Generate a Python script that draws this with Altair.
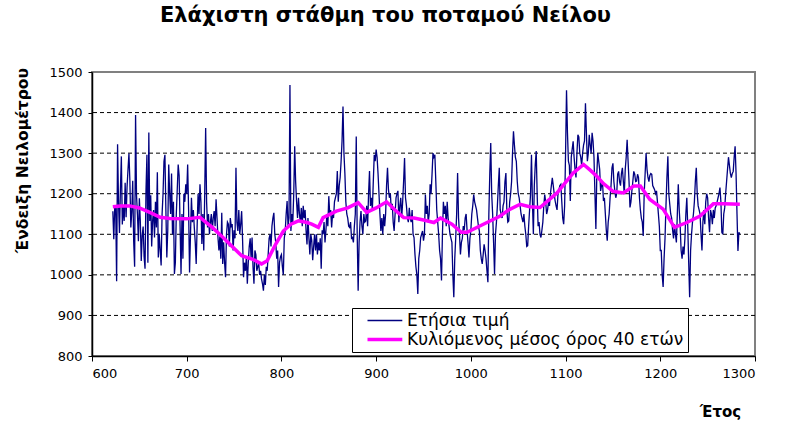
import altair as alt
import pandas as pd

START_YEAR = 622
annual_values = [
    1157, 1088, 1169, 1169, 984, 1322, 1178, 1103, 1211, 1292,
    1124, 1171, 1133, 1227, 1142, 1216, 1259, 1299, 1232, 1117,
    1155, 1232, 1083, 1020, 1394, 1196, 1148, 1083, 1189, 1133,
    1034, 1097, 1119, 1045, 1015, 1207, 1296, 1030, 1351, 1133,
    1196, 1070, 1133, 1160, 1092, 1180, 1117, 1253, 1043, 1100,
    1060, 1023, 1150, 1200, 1280, 1296, 1160, 1043, 1110, 1272,
    1200, 1150, 1250, 1100, 1180, 1002, 1030, 1150, 1210, 1272,
    1245, 1120, 1002, 1150, 1040, 1200, 1180, 1223, 1200, 1272,
    1160, 1006, 1100, 1190, 1130, 1160, 1117, 1080, 1027, 1120,
    1200, 1150, 1223, 1180, 1076, 1150, 1060, 1200, 1362, 1180,
    1117, 1150, 1100, 1130, 1150, 1108, 1140, 1157, 1120, 1186,
    1140, 1092, 1060, 1095, 1040, 1153, 1027, 1080, 1030, 994,
    1100, 1130, 1125, 1070, 1140, 1120, 1125, 1060, 1110, 1090,
    1264, 1130, 1108, 1160, 1100, 1125, 1157, 1085, 994, 1030,
    1010, 1045, 978, 1030, 1070, 1090, 1040, 1092, 1020, 978,
    1060, 1050, 1010, 1020, 1030, 1000, 1010, 990, 978, 961,
    1000, 975, 1020, 1010, 1050, 1090, 1100, 1070, 1120, 1140,
    1153, 1100, 1080, 1040, 1060, 970, 1030, 1045, 1050, 1020,
    1000, 1090, 1108, 1150, 1182, 1120, 1140, 1468, 1108, 1150,
    1130, 1200, 1317, 1230, 1180, 1140, 1190, 1150, 1130, 1165,
    1120, 1170, 1140, 1160, 1110, 1075, 1140, 1092, 1050, 1100,
    1085, 1036, 1070, 1100, 1060, 1100, 1050, 1080, 1060, 1090,
    1015, 1110, 1100, 1130, 1080, 1110, 1150, 1120, 1194, 1150,
    1160, 1117, 1150, 1140, 1180, 1190, 1200, 1256, 1180, 1220,
    1240, 1280, 1330, 1415, 1300, 1250, 1180, 1150, 1140, 1120,
    1117, 1130, 1090, 1092, 1080, 1120, 1150, 1341, 1100, 961,
    1080, 1130, 1157, 1120, 1100, 1150, 1130, 1133, 1170, 1120,
    1200, 1256, 1170, 1190, 1160, 1230, 1296, 1280, 1309, 1290,
    1250, 1200, 1150, 1108, 1140, 1100, 1150, 1120, 1150, 1220,
    1264, 1210, 1190, 1200, 1160, 1175, 1130, 1108, 1150, 1190,
    1200, 1207, 1130, 1170, 1190, 1140, 1180, 1230, 1288, 1190,
    1170, 1140, 1130, 1165, 1140, 1130, 1160, 1100, 1092, 1050,
    1020, 1000, 953, 1040, 1060, 1092, 1100, 1108, 1084, 1100,
    1198, 1150, 1170, 1130, 1150, 1223, 1200, 1247, 1300, 1290,
    1296, 1230, 1160, 1130, 1100, 1060, 1040, 986, 1100, 1180,
    1150, 1170, 1120, 1180, 1140, 1120, 1100, 1090, 1080, 1000,
    945, 1040, 1090, 1150, 1251, 1140, 1100, 1050, 1080, 1090,
    1120, 1110, 1140, 1150, 1110, 1080, 1043, 1090, 1110, 1150,
    1170, 1198, 1180, 1170, 1160, 1140, 1120, 1108, 1060, 1040,
    1027, 1050, 1075, 1060, 1040, 1010, 982, 1150, 1250, 1325,
    1200, 1150, 1080, 1002, 1100, 1130, 1170, 1220, 1264, 1160,
    1150, 1140, 1170, 1180, 1230, 1251, 1160, 1130, 1133, 1180,
    1200, 1230, 1300, 1354, 1320, 1290, 1280, 1230, 1200, 1190,
    1170, 1150, 1140, 1130, 1150, 1120, 1100, 1070, 1072, 1120,
    1160, 1198, 1296, 1180, 1100, 1220, 1272, 1305, 1200, 1120,
    1130, 1100, 1092, 1110, 1130, 1170, 1198, 1180, 1150, 1160,
    1180, 1170, 1200, 1220, 1239, 1220, 1200, 1182, 1170, 1160,
    1200, 1210, 1220, 1223, 1180, 1140, 1125, 1170, 1300, 1455,
    1350, 1280, 1270, 1182, 1290, 1310, 1329, 1290, 1260, 1240,
    1300, 1345, 1340, 1300, 1290, 1270, 1300, 1320, 1330, 1423,
    1350, 1280, 1300, 1345, 1320, 1300, 1350, 1330, 1290, 1200,
    1113, 1250, 1300, 1280, 1260, 1207, 1220, 1230, 1182, 1190,
    1150, 1110, 1084, 1130, 1150, 1190, 1220, 1264, 1275, 1230,
    1207, 1190, 1200, 1248, 1255, 1230, 1220, 1250, 1264, 1230,
    1199, 1260, 1290, 1333, 1280, 1230, 1166, 1180, 1207, 1230,
    1255, 1248, 1230, 1231, 1248, 1240, 1190, 1160, 1140, 1130,
    1096, 1200, 1250, 1300, 1260, 1240, 1230, 1245, 1250, 1248,
    1220, 1215, 1210, 1200, 1207, 1180, 1150, 1120, 1060, 1060,
    1000, 970, 1040, 1090, 1170, 1240, 1292, 1200, 1174, 1150,
    1140, 1110, 1090, 1125, 1100, 1080, 1150, 1223, 1160, 1120,
    1060, 1040, 1070, 1050, 1090, 1150, 1190, 1120, 1030, 945,
    1060, 1100, 1130, 1150, 1180, 1230, 1264, 1200, 1170, 1160,
    1150, 1100, 1060, 1130, 1160, 1125, 1180, 1200, 1190, 1140,
    1105, 1160, 1150, 1125, 1160, 1140, 1165, 1170, 1180, 1190,
    1200, 1215, 1180, 1105, 1100, 1150, 1165, 1200, 1230, 1260,
    1290, 1270, 1250, 1240, 1250, 1255, 1290, 1317, 1250, 1150,
    1059, 1105, 1100,
]
years = list(range(START_YEAR, START_YEAR + len(annual_values)))

ma_years = [622, 630, 640, 650, 661, 672, 682, 700, 714, 720, 727, 737, 748,
            758, 769, 779, 785, 794, 802, 810, 818, 827, 832, 839, 844, 858,
            870, 881, 890, 900, 911, 920, 929, 940, 950, 961, 968, 980, 990,
            996, 1010, 1031, 1040, 1052, 1062, 1073, 1091, 1100, 1108, 1119,
            1126, 1133, 1140, 1150, 1161, 1172, 1179, 1189, 1203, 1215, 1228,
            1242, 1256, 1267, 1284]
ma_values = [1168, 1170, 1170, 1165, 1154, 1142, 1139, 1138, 1142, 1130, 1117,
             1095, 1070, 1047, 1039, 1027, 1035, 1076, 1108, 1125, 1133, 1129,
             1125, 1117, 1141, 1157, 1165, 1178, 1154, 1165, 1180, 1160, 1141,
             1140, 1135, 1129, 1140, 1125, 1105, 1105, 1121, 1145, 1160, 1174,
             1168, 1166, 1202, 1228, 1251, 1272, 1258, 1243, 1225, 1206, 1202,
             1219, 1219, 1186, 1162, 1117, 1129, 1145, 1175, 1175, 1174]

grid_values = [900, 1000, 1100, 1200, 1300, 1400]
y_ticks = [800, 900, 1000, 1100, 1200, 1300, 1400, 1500]
x_ticks = [600, 700, 800, 900, 1000, 1100, 1200, 1300]
series_names = ["Ετήσια τιμή", "Κυλιόμενος μέσος όρος 40 ετών"]
series_colors = ["#000080", "#FF00FF"]
series_widths = [1.3, 3.5]

annual_df = pd.DataFrame({"year": years, "value": annual_values, "series": series_names[0]})
ma_df = pd.DataFrame({"year": ma_years, "value": ma_values, "series": series_names[1]})
grid_df = pd.DataFrame({"value": grid_values})

FONT = "DejaVu Sans"

x_scale = alt.Scale(domain=[600, 1300], nice=False, zero=False)
y_scale = alt.Scale(domain=[800, 1500], nice=False, zero=False)

x_axis = alt.Axis(values=x_ticks, title="Έτος", grid=False, format="d",
                  titleX=628, titleY=55, titleAlign="center",
                  titleBaseline="middle", titleFontWeight="bold",
                  titleFontSize=15, titleFont=FONT, titleColor="black",
                  labelFont=FONT, labelFontSize=13, labelColor="black",
                  labelPadding=6, tickSize=5, tickColor="black",
                  domainColor="black", domainWidth=1.5)
y_axis = alt.Axis(values=y_ticks, title="Ένδειξη Νειλομέτρου", grid=False, format="d",
                  titleX=-70, titleY=88, titleAngle=-90,
                  titleAlign="center", titleBaseline="middle",
                  titleFontWeight="bold", titleFontSize=15.5, titleFont=FONT,
                  titleColor="black",
                  labelFont=FONT, labelFontSize=13, labelColor="black",
                  labelPadding=6, tickSize=4, tickColor="black",
                  domainColor="black", domainWidth=1.5)

y_enc = alt.Y("value:Q", scale=y_scale, axis=y_axis)
x_enc = alt.X("year:Q", scale=x_scale, axis=x_axis)

legend = alt.Legend(title=None, orient="none", legendX=260, legendY=236,
                    fillColor="white", strokeColor="black", padding=4,
                    cornerRadius=0, labelFont=FONT, labelFontSize=17,
                    labelColor="black", labelLimit=500,
                    symbolType="M0.5,0H6.3", symbolSize=144,
                    rowPadding=1, labelOffset=34, symbolOpacity=1)

color_enc = alt.Color("series:N",
                      scale=alt.Scale(domain=series_names, range=series_colors),
                      legend=legend)
width_enc = alt.StrokeWidth("series:N",
                            scale=alt.Scale(domain=series_names, range=series_widths),
                            legend=legend)

grid = alt.Chart(grid_df).mark_rule(color="black", strokeDash=[4, 3], strokeWidth=1).encode(
    y=y_enc
)

annual = alt.Chart(annual_df).mark_line(interpolate="linear").encode(
    x=x_enc, y=y_enc, color=color_enc, strokeWidth=width_enc
)
ma = alt.Chart(ma_df).mark_line(interpolate="linear").encode(
    x=x_enc, y=y_enc, color=color_enc, strokeWidth=width_enc
)

chart = alt.layer(grid, annual, ma).properties(
    width=663, height=284,
    background="white",
    autosize=alt.AutoSizeParams(type="none"),
    padding={"left": 92, "top": 72, "right": 35, "bottom": 80},
    title=alt.TitleParams("Ελάχιστη στάθμη του ποταμού Νείλου",
                          font=FONT, fontSize=21, fontWeight="bold",
                          color="black", anchor="middle", dx=-38, offset=40),
).configure_view(
    stroke="#808080", strokeWidth=2
)

chart.save("out.html", embed_options={"renderer": "svg", "actions": False})
